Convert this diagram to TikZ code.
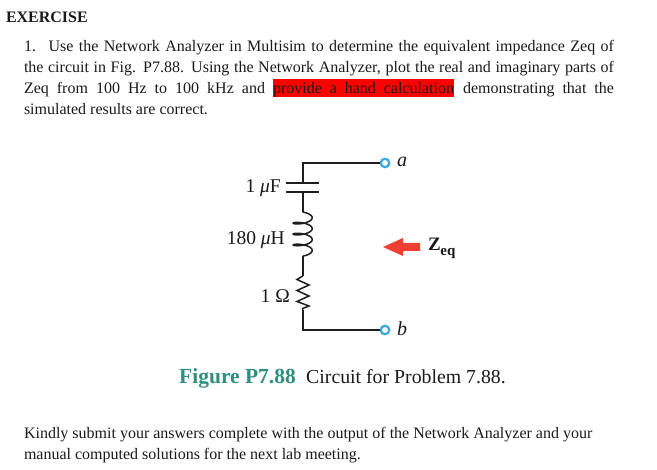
\documentclass[tikz,border=0pt]{standalone}
\usepackage{fontspec}
\setmainfont{Liberation Serif}
\definecolor{figgreen}{HTML}{2F8F7F}
\definecolor{wirecol}{HTML}{1E1E1E}
\definecolor{termblue}{HTML}{3BA7E0}
\definecolor{arrowred}{HTML}{EE4030}
\definecolor{txt}{HTML}{1A1A1A}
\tikzset{
  x=1pt,y=-1pt,
  para/.style={anchor=base west,inner sep=0pt,outer sep=0pt,text=txt,font=\fontsize{16}{16}\selectfont},
  clabel/.style={anchor=base east,inner sep=0pt,text=txt,font=\fontsize{19.5}{20}\selectfont},
  wire/.style={line width=2pt,draw=wirecol},
  terminal/.style={circle,draw=termblue,fill=white,line width=2.2pt,minimum size=8.5pt,inner sep=0pt},
}
\newcommand{\just}[2]{\makebox[#1pt][s]{#2}}
\begin{document}
\begin{tikzpicture}
\useasboundingbox (0,0) rectangle (657,470);
\fill[white] (0,0) rectangle (657,470);
\fill[red] (273,79) rectangle (454,97);
\node[para,font=\bfseries\fontsize{16}{16}\selectfont] (title) at (6,23) {EXERCISE};
\node[para] (l1) at (24,52) {\just{590}{1.\hspace{3pt} Use the Network Analyzer in Multisim to determine the equivalent impedance Zeq of}};
\node[para] (l2) at (24,73) {\just{590}{the circuit in Fig. P7.88. Using the Network Analyzer, plot the real and imaginary parts of}};
\node[para] (l3a) at (24,94) {\just{241}{Zeq from 100 Hz to 100 kHz and}};
\node[para] (l3b) at (273,94) {\just{181}{provide a hand calculation}};
\node[para] (l3c) at (463,94) {\just{151}{demonstrating that the}};
\node[para] (l4) at (24,115) {simulated results are correct.};
\node[para] (k1) at (24,439) {Kindly submit your answers complete with the output of the Network Analyzer and your};
\node[para] (k2) at (24,460) {manual computed solutions for the next lab meeting.};
\node[anchor=base west,inner sep=0pt,text=figgreen,font=\bfseries\fontsize{21.5}{20}\selectfont] (figlab) at (179,383.5) {Figure P7.88};
\node[anchor=base west,inner sep=0pt,text=txt,font=\fontsize{19.8}{20}\selectfont] (figcap) at (306,383.5) {Circuit for Problem 7.88.};
% circuit
\node[terminal] (a) at (385,163) {};
\node[terminal] (b) at (385,330) {};
\coordinate (tl) at (302.7,163);
\coordinate (bl) at (302.7,330);
\coordinate (c1) at (302.7,183);
\coordinate (c2) at (302.7,192);
\coordinate (c1l) at (286,183); \coordinate (c1r) at (319,183);
\coordinate (c2l) at (286,192); \coordinate (c2r) at (319,192);
\coordinate (ltop) at (302.7,212);
\coordinate (lbot) at (302.7,256);
\coordinate (rtop) at (302.7,276);
\coordinate (rbot) at (302.7,310);
\draw[wire] (a) -- (tl) -- (c1);
\draw[wire] (c1l) -- (c1r);
\draw[wire] (c2l) -- (c2r);
\draw[wire] (c2) -- (ltop);
\draw[wire,line width=1.5pt] plot[smooth,samples=120,domain=0:1260,variable=\t]
  ({302.7+9.5*sin(\t)},{212+\t/360*10.9+3*(1-cos(\t))});
\draw[wire] (lbot) -- (rtop);
\draw[wire,line width=1.5pt,line join=miter] (rtop) -- (297,279.5) -- (309,285) -- (297,290.5) -- (309,296) -- (297,301.5) -- (309,306) -- (302.7,308.5) -- (rbot);
\draw[wire] (rbot) -- (bl) -- (b);
% labels
\node[clabel] (lc) at (281,193) {1 \textit{μ}F};
\node[clabel] (ll) at (285,245) {180 \textit{μ}H};
\node[clabel] (lr) at (290,303) {1 Ω};
\node[anchor=base west,inner sep=0pt,text=txt,font=\itshape\fontsize{20}{20}\selectfont] (la) at (397,167) {a};
\node[anchor=base west,inner sep=0pt,text=txt,font=\itshape\fontsize{20}{20}\selectfont] (lb) at (397,336) {b};
\node[anchor=base west,inner sep=0pt,text=txt,font=\bfseries\fontsize{19}{19}\selectfont] (z) at (428,251) {Z\raisebox{-5pt}{\hspace{-0.5pt}\fontsize{15}{15}\selectfont eq}};
\fill[arrowred] (420,243) -- (403,243) -- (403,238) -- (383,247) -- (403,256) -- (403,251) -- (420,251) -- cycle;
\end{tikzpicture}
\end{document}
